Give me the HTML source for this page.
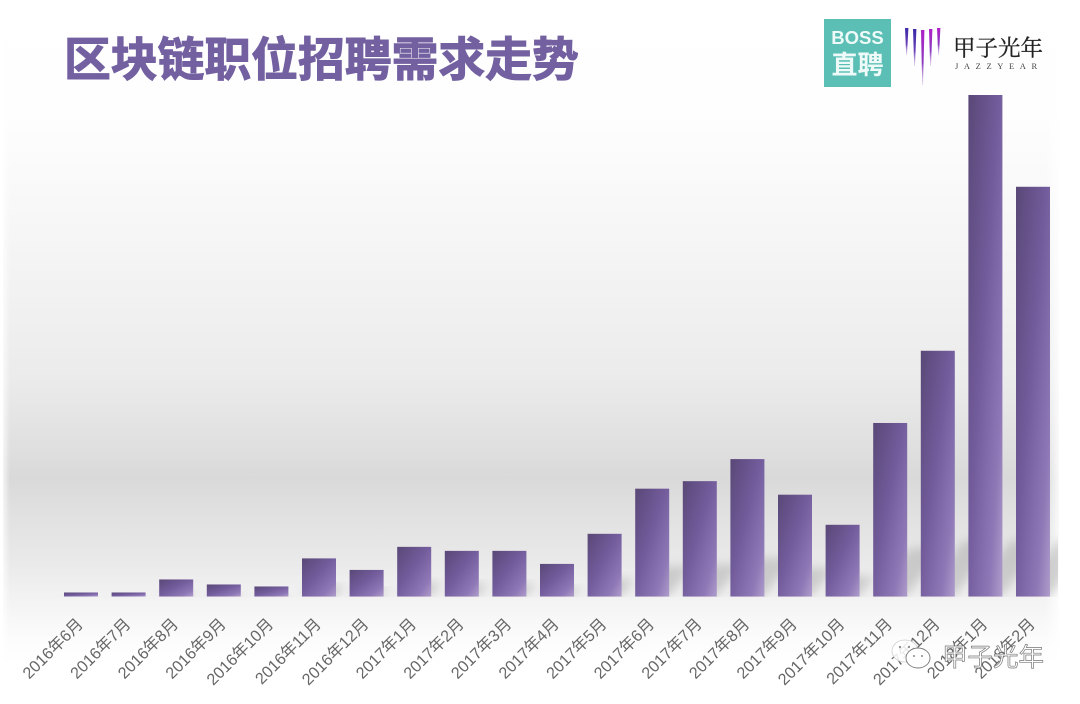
<!DOCTYPE html>
<html lang="zh">
<head>
<meta charset="utf-8">
<title>区块链职位招聘需求走势</title>
<style>
html,body{margin:0;padding:0;background:#fff;}
#page{position:relative;width:1080px;height:704px;overflow:hidden;background:#fff;font-family:"Liberation Sans","Noto Sans CJK SC",sans-serif;}
#backdrop{position:absolute;left:3px;top:0;width:1056px;height:704px;background:linear-gradient(180deg,#fff 0,#fefefe 110px,#f9f9f9 190px,#f2f2f2 290px,#ebebeb 380px,#dfdfdf 450px,#d9d9d9 478px,#e0e0e0 510px,#e9e9e9 560px,#f3f3f3 600px,#fcfcfc 640px,#fff 665px);}
#backdrop2{position:absolute;left:0;top:0;width:1080px;height:704px;background:linear-gradient(90deg,#fff 0,rgba(255,255,255,0) 10px,rgba(255,255,255,0) 1045px,#fff 1062px);}
#chart{position:absolute;left:0;top:0;}
#title{position:absolute;left:64px;top:23px;font-size:46.8px;line-height:68px;font-weight:700;color:#7360a0;-webkit-text-stroke:1.1px #7360a0;white-space:nowrap;font-family:"Noto Sans CJK SC","Liberation Sans",sans-serif;}
#boss{position:absolute;left:824px;top:19px;width:67px;height:68px;background:#5cbfb6;color:#eefaf8;text-align:center;font-weight:700;font-family:"Liberation Sans","Noto Sans CJK SC",sans-serif;}
#boss .a{position:absolute;left:0;right:0;top:8px;font-size:18.5px;line-height:22px;}
#boss .b{position:absolute;left:0;right:0;top:30px;font-size:26px;line-height:32px;}
#jz{position:absolute;left:953px;top:32px;font-size:22.5px;line-height:30px;color:#222;-webkit-text-stroke:.3px #222;white-space:nowrap;font-family:"Noto Serif CJK SC","Liberation Serif",serif;}
#jzen{position:absolute;left:955px;top:60px;font-size:8.5px;line-height:12px;letter-spacing:5.6px;color:#444;white-space:nowrap;font-family:"Liberation Serif",serif;}
#wm{position:absolute;left:942px;top:638px;font-size:25.5px;line-height:36px;color:#fff;-webkit-text-stroke:0.7px #777;white-space:nowrap;font-family:"Noto Sans CJK SC","Liberation Sans",sans-serif;}
</style>
</head>
<body>
<div id="page">
  <div id="backdrop"></div>
  <div id="backdrop2"></div>
  <svg id="chart" width="1080" height="704" viewBox="0 0 1080 704">
    <defs>
      <linearGradient id="barFill" x1="0" y1="0" x2="1" y2="1">
        <stop offset="0" stop-color="#5a4877"/>
        <stop offset="0.45" stop-color="#725c9c"/>
        <stop offset="0.8" stop-color="#8f78b6"/>
        <stop offset="1" stop-color="#af9dcb"/>
      </linearGradient>
      <filter id="shadowBlur" x="-40%" y="-40%" width="180%" height="180%">
        <feGaussianBlur stdDeviation="5"/>
      </filter>
      <clipPath id="shadowClip"><rect x="0" y="0" width="1058" height="597"/></clipPath>
    </defs>
    <g id="shadows" clip-path="url(#shadowClip)"></g>
    <g id="bars"></g>
    <g id="labels"></g>
  </svg>
  <div id="title">区块链职位招聘需求走势</div>
  <div id="boss"><div class="a">BOSS</div><div class="b">直聘</div></div>
  <svg style="position:absolute;left:900px;top:24px" width="44" height="64" viewBox="0 0 44 64">
    <defs>
      <linearGradient id="m1" x1="0" y1="0" x2="0" y2="1"><stop offset="0" stop-color="#3a2aa8"/><stop offset="0.6" stop-color="#6a3fb8"/><stop offset="1" stop-color="#b9a4dc" stop-opacity=".5"/></linearGradient>
      <linearGradient id="m2" x1="0" y1="0" x2="0" y2="1"><stop offset="0" stop-color="#b01fc8"/><stop offset="0.6" stop-color="#8a3ac0"/><stop offset="1" stop-color="#c4a8dc" stop-opacity=".5"/></linearGradient>
    </defs>
    <polygon points="5,4 8.4,4 7,31 6.2,31" fill="url(#m1)"/>
    <polygon points="13,5 16.4,5 15,42 14.2,42" fill="url(#m1)"/>
    <polygon points="21,6 24.4,6 23,61 22.2,61" fill="url(#m2)"/>
    <polygon points="29,5 32.4,5 31,42 30.2,42" fill="url(#m2)"/>
    <polygon points="37,4 40.4,4 39,31 38.2,31" fill="url(#m2)"/>
  </svg>
  <div id="jz">甲子光年</div>
  <div id="jzen">JAZZYEAR</div>
  <svg style="position:absolute;left:890px;top:636px" width="50" height="40" viewBox="0 0 50 40">
    <ellipse cx="15" cy="15" rx="13" ry="11" fill="#fff" fill-opacity=".85" stroke="#cfcfcf" stroke-width=".8"/>
    <ellipse cx="28" cy="22" rx="12" ry="10" fill="#fff" stroke="#777" stroke-width=".9"/>
    <circle cx="10" cy="11" r="1.1" fill="#888"/><circle cx="19" cy="11" r="1.1" fill="#888"/>
    <circle cx="24" cy="20" r="1" fill="#888"/><circle cx="32" cy="20" r="1" fill="#888"/>
  </svg>
  <div id="wm">甲子光年</div>
</div>
<script>
const categories = ["2016年6月","2016年7月","2016年8月","2016年9月","2016年10月","2016年11月","2016年12月","2017年1月","2017年2月","2017年3月","2017年4月","2017年5月","2017年6月","2017年7月","2017年8月","2017年9月","2017年10月","2017年11月","2017年12月","2018年1月","2018年2月"];
const demandIndex = [0.8,0.8,3.4,2.4,2.0,7.6,5.3,9.9,9.1,9.1,6.5,12.5,21.5,23.0,27.4,20.3,14.3,34.6,49.0,100,81.7];

const NS = "http://www.w3.org/2000/svg";
const plot = {left:81, step:47.6, base:596.5, top:95, max:100, barWidth:34};
function xCenter(i){ return plot.left + i * plot.step; }
function yValue(v){ return plot.base - (v / plot.max) * (plot.base - plot.top); }

const shadowLayer = document.getElementById("shadows");
const barLayer = document.getElementById("bars");
const labelLayer = document.getElementById("labels");

categories.forEach(function(name, i){
  const cx = xCenter(i);
  const y = yValue(demandIndex[i]);
  const h = plot.base - y;
  const x0 = cx - plot.barWidth / 2;
  const x1 = cx + plot.barWidth / 2;
  const sh = Math.min(56, h * 0.28);
  const slant = sh * 0.75;

  const shadow = document.createElementNS(NS, "polygon");
  shadow.setAttribute("points", x0 + "," + plot.base + " " + x1 + "," + plot.base + " " + (x1 + slant) + "," + (plot.base - sh) + " " + (x0 + slant) + "," + (plot.base - sh));
  shadow.setAttribute("fill", "#9a9a9a");
  shadow.setAttribute("fill-opacity", "0.42");
  shadow.setAttribute("filter", "url(#shadowBlur)");
  
  
  shadowLayer.appendChild(shadow);

  const bar = document.createElementNS(NS, "rect");
  bar.setAttribute("x", x0);
  bar.setAttribute("y", y);
  bar.setAttribute("width", plot.barWidth);
  bar.setAttribute("height", h);
  bar.setAttribute("fill", "url(#barFill)");
  
  
  barLayer.appendChild(bar);

  const label = document.createElementNS(NS, "text");
  const lx = cx + 3;
  const ly = 625;
  label.setAttribute("x", lx);
  label.setAttribute("y", ly);
  label.setAttribute("text-anchor", "end");
  label.setAttribute("transform", "rotate(-45 " + lx + " " + ly + ")");
  label.setAttribute("font-size", "16.2");
  label.setAttribute("fill", "#666666");
  label.setAttribute("font-family", '"Liberation Sans","Noto Sans CJK SC",sans-serif');
  
  
  label.textContent = name;
  labelLayer.appendChild(label);
});
</script>
</body>
</html>
